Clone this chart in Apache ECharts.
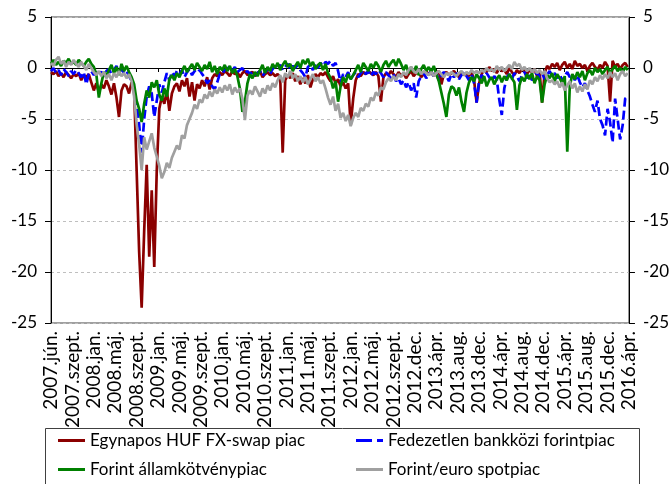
<!DOCTYPE html>
<html>
<head>
<meta charset="utf-8">
<script src="https://cdn.jsdelivr.net/npm/echarts@6/dist/echarts.min.js"></script>
<style>
html, body { margin: 0; padding: 0; background: #fff; }
#chart { width: 672px; height: 484px; }
</style>
</head>
<body>
<div id="chart"></div>
<script>
// heti adatok, két hetente mintavételezve (x = hét sorszáma)
var tickLabels = ['2007.jún.', '2007.szept.', '2008.jan.', '2008.máj.', '2008.szept.', '2009.jan.', '2009.máj.',
    '2009.szept.', '2010.jan.', '2010.máj.', '2010.szept.', '2011.jan.', '2011.máj.', '2011.szept.',
    '2012.jan.', '2012.máj.', '2012.szept.', '2012.dec.', '2013.ápr.', '2013.aug.', '2013.dec.',
    '2014.ápr.', '2014.aug.', '2014.dec.', '2015.ápr.', '2015.aug.', '2015.dec.', '2016.ápr.'];

var seriesNames = ['Egynapos HUF FX-swap piac', 'Fedezetlen bankközi forintpiac', 'Forint államkötvénypiac', 'Forint/euro spotpiac'];

var swap = [
    -0.4, -0.6, -0.3, -0.8, -0.5, -0.9, -0.4, -0.7, -1.0, -0.6,
    -0.8, -0.5, -1.2, -0.7, -0.9, -0.6, -1.4, -2.2, -1.5, -2.4,
    -1.6, -2.0, -1.2, -1.8, -2.6, -1.5, -2.9, -4.8, -2.2, -1.6,
    -1.8, -2.5, -1.4, -2.0, -10, -18, -23.5, -16, -9.5, -18.5,
    -12, -19.5, -10, -4, -2.8, -3.5, -2.2, -4.2, -2.5, -1.8,
    -1.5, -2.3, -1.2, -1.8, -1.0, -2.8, -1.4, -3.2, -1.6, -2.0,
    -1.2, -1.8, -0.9, -2.1, -1.0, -0.6, -0.8, -0.4, -0.7, -0.3,
    -0.5, -0.8, -0.3, -0.6, -0.4, -0.9, -0.5, -0.3, -0.7, -0.5,
    -0.4, -0.8, -0.5, -0.3, -0.9, -0.6, -0.4, -0.7, -0.5, -0.8,
    -0.6, -0.9, -8.3, -1.2, -0.7, -1.0, -0.5, -1.3, -0.8, -1.6,
    -1.0, -1.5, -0.7, -1.9, -1.1, -0.6, -0.9, -0.5, -0.7, -0.4,
    -0.9, -1.3, -0.8, -1.5, -1.1, -1.8, -1.4, -2.0, -1.5, -5.6,
    -3.0, -1.2, -0.6, -0.8, -0.4, -0.6, -0.3, -0.5, -0.7, -0.4,
    -0.8, -3.3, -0.9, -0.5, -0.7, -0.3, -0.6, -0.9, -0.4, -0.8,
    -0.5, -1.0, -0.6, -0.3, -0.8, -0.5, -0.4, -0.9, -0.6, -0.3,
    -0.7, -0.4, -0.8, -0.5, -0.3, -1.6, -0.6, -0.4, -0.7, -0.5,
    -0.3, -0.6, -0.9, -0.4, -0.7, -0.5, -0.8, -0.4, -1.2, -3.4,
    -1.5, -0.6, -0.2, -0.4, 0.1, -0.3, -0.1, -0.5, 0.0, -0.3,
    -0.2, -0.6, 0.0, -0.4, -0.7, -0.2, -0.5, -0.1, -0.3, -0.6,
    -0.2, -0.4, -0.1, -0.8, -0.3, -3.4, -0.5, 0.2, -0.1, 0.4,
    0.1, 0.5, -0.2, 0.3, 0.6, 0.0, 0.4, -0.1, 0.7, 0.2,
    0.4, 0.0, 0.3, -0.3, 0.2, 0.5, 0.1, -0.2, 0.3, 0.0,
    0.6, 0.2, -3.3, 0.7, 0.1, 0.4, -0.1, 0.3, 0.5, 0.1
];

var interbank = [
    -0.3, 0.0, -0.5, -0.2, -0.7, -0.1, -0.4, -0.8, -0.3, -0.6,
    -0.2, -0.5, -0.9, -0.4, -1.6, -0.6, -0.3, -0.7, -0.2, -0.5,
    -0.4, -0.8, -0.3, -0.1, -0.6, -0.2, 0.2, -0.4, -0.1, -0.5,
    -0.3, -0.8, -1.3, -2.2, -3.5, -5.5, -8.3, -5.0, -2.8, -1.8,
    -2.5, -4.8, -3.2, -1.6, -2.4, -1.4, -0.5, -1.2, -0.4, -0.8,
    -0.3, -0.6, -0.2, -0.9, -0.4, -0.1, -0.7, -0.3, -0.5, -0.2,
    -0.6, -0.9, -1.5, -1.2, -1.8, -2.1, -1.4, -0.6, -0.6, -0.2,
    -0.1, 0.2, -0.3, 0.1, -0.4, -0.2, 0.0, -0.5, -0.3, -0.6,
    -0.4, -0.7, -0.5, -0.3, -0.8, -0.4, -0.2, -0.6, -0.1, 0.2,
    0.0, 0.3, -0.2, 0.1, 0.4, -0.1, 0.2, 0.0, 0.3, -0.2,
    -0.5, -0.9, 0.1, 0.3, -0.2, 0.4, 0.0, 0.5, 0.2, 0.6,
    0.4, 0.7, 0.2, 0.5, -0.3, -1.4, -0.6, -0.9, -0.4, -1.1,
    -0.7, -0.4, -0.9, -0.5, -0.2, -0.6, -0.3, -0.8, -0.4, -0.6,
    -0.2, -0.5, -0.9, -0.4, -0.7, -1.0, -0.6, -1.3, -1.0, -1.6,
    -1.2, -1.9, -1.4, -2.2, -1.5, -2.9, -1.3, -0.8, -0.5, -1.0,
    -0.6, -0.3, -0.9, -0.5, -1.2, -0.7, -0.4, -0.8, -1.3, -0.6,
    -0.9, -0.5, -1.1, -0.7, -0.4, -0.8, -1.2, -0.6, -1.5, -3.4,
    -1.2, -0.7, -1.0, -0.5, -0.9, -1.3, -0.8, -1.1, -3.1, -4.6,
    -2.0, -0.9, -0.6, -1.1, -0.5, -0.8, -1.3, -0.7, -0.4, -1.0,
    -0.6, -1.2, -0.8, -0.4, -0.9, -0.5, -1.1, -0.7, -0.3, -0.8,
    -0.5, -1.0, -0.6, -1.3, -0.8, -0.4, -0.9, -0.6, -1.2, -0.7,
    -1.4, -1.9, -1.5, -2.2, -2.8, -3.6, -4.3, -3.2, -5.0, -5.6,
    -6.6, -4.0, -5.3, -7.3, -3.0, -5.0, -7.0, -5.6, -3.0, -2.8
];

var bonds = [
    0.4, 0.8, 0.3, 0.6, 0.2, 0.7, 0.5, 0.9, 0.4, 0.6,
    0.3, 0.8, 0.5, 0.2, 0.6, 0.9, 0.4, 0.1, -0.6, -2.9,
    -1.5, -0.4, -0.8, -0.2, 0.3, -0.5, 0.1, -0.7, 0.4, -0.3,
    0.2, -0.4, -0.9, -1.6, -3.2, -4.0, -5.3, -3.5, -2.2, -2.9,
    -1.4, -1.9, -1.2, -2.6, -3.2, -2.0, -2.8, -1.1, -0.7, -1.2,
    -0.5, -0.9, -0.3, 0.2, -0.4, 0.0, 0.4, -0.2, 0.5, 0.1,
    -0.3, 0.3, -0.1, 0.6, -0.4, 0.2, -0.6, 0.1, -0.2, 0.3,
    -0.3, 0.2, -0.5, -0.1, -0.8, -2.0, -4.3, -3.3, -1.5, -0.6,
    -1.0, -0.4, -0.8, -0.2, 0.3, -0.5, 0.1, -0.3, 0.4, 0.0,
    0.5, -0.2, 0.3, 0.7, 0.1, 0.4, -0.3, 0.2, 0.6, 0.0,
    0.8, 0.4, 0.9, 0.2, 0.6, -0.1, 0.3, 0.5, -0.2, 0.4,
    -0.5, -1.0, -2.0, -1.3, -3.3, -1.8, -0.9, -1.4, -0.6, -1.1,
    -0.7, -0.2, 0.3, -0.4, 0.5, 0.1, -0.3, 0.4, 0.0, 0.6,
    0.2, -0.4, 0.3, 0.7, 0.1, 0.5, 0.8, 0.2, 0.9, 0.4,
    -0.2, 0.3, -0.5, 0.1, -0.4, 0.2, -0.7, -0.1, 0.3, -0.3,
    0.1, -0.4, 0.2, -0.6, -1.3, -2.4, -3.5, -4.8, -2.6, -1.8,
    -2.0, -2.7, -1.9, -3.3, -4.3, -2.4, -1.4, -0.9, -1.3, -0.6,
    -1.0, -1.5, -0.8, -1.8, -1.2, -0.9, -1.6, -1.1, -0.7, -1.4,
    -0.8, -1.2, -0.6, -1.0, -1.4, -4.1, -1.7, -0.9, -1.3, -0.6,
    -1.1, -0.5, -1.5, -0.8, -1.2, -3.4, -1.6, -0.7, -1.0, -0.5,
    -1.3, -0.6, -1.0, -1.5, -0.8, -8.2, -1.8, -0.6, -1.1, -0.4,
    -0.9, -0.3, -1.2, -0.5, -0.2, -0.7, 0.0, -0.4, -0.1, -0.6,
    -0.2, 0.1, -0.5, -0.1, 0.2, -0.3, 0.0, -0.4, 0.1, -0.2
];

var spot = [
    0.5, 0.2, 0.8, 1.1, 0.4, 0.7, 0.1, 0.6, 0.3, 0.8,
    0.4, 0.1, 0.6, 0.2, -0.2, 0.4, 0.0, -0.4, -0.7, -0.3,
    -0.8, -0.4, -1.0, -0.6, -1.2, -0.5, -0.9, -0.3, -0.8, -0.5,
    -1.0, -0.6, -1.3, -2.8, -5.5, -7.5, -10.0, -6.8, -8.0, -7.2,
    -6.4, -7.8, -8.7, -9.6, -10.8, -10.2, -9.3, -9.8, -8.8, -8.2,
    -7.6, -8.0, -6.6, -6.9, -5.6, -5.0, -4.4, -3.6, -4.0, -3.1,
    -3.4, -2.6, -3.0, -2.3, -2.8, -2.1, -2.5, -1.9, -2.4, -1.7,
    -2.2, -1.6, -2.6, -1.9, -2.4, -2.0, -3.0, -5.1, -2.7, -2.2,
    -2.6, -1.8, -2.3, -2.8, -2.0, -2.5, -1.7, -2.2, -1.5, -1.9,
    -1.2, -0.7, -1.4, -0.5, -0.9, -0.3, -1.0, -0.6, -1.3, -0.8,
    -1.4, -0.9, -1.6, -1.1, -0.6, -1.3, -0.9, -1.5, -1.2, -2.0,
    -2.9, -3.6, -2.8, -4.2, -3.5, -4.9, -4.4, -5.2, -4.6, -5.7,
    -4.9, -4.4, -4.8, -3.9, -4.2, -3.5, -3.8, -2.9, -3.2, -2.4,
    -2.7, -1.9, -2.1, -1.4, -1.0, -1.3, -0.8, -1.2, -0.6, -0.9,
    -0.4, -0.7, -0.2, 0.1, -0.3, -0.5, -0.1, -0.6, -0.3, -0.5,
    -0.7, -0.4, -0.8, -0.5, -0.3, -0.6, -0.9, -0.5, -0.7, -0.4,
    -0.6, -0.8, -0.5, -0.3, -0.7, -0.4, -0.6, -0.2, -0.5, -0.3,
    -0.5, -0.2, -0.4, 0.0, -0.3, -0.1, -0.4, 0.2, -0.2, 0.1,
    -0.3, 0.0, 0.3, -0.1, 0.6, 0.2, 0.4, -0.2, 0.1, -0.3,
    0.0, -0.4, -0.1, -0.5, -0.2, -0.6, -0.3, -1.0, -1.4, -1.2,
    -1.6, -1.3, -1.9, -1.4, -2.2, -1.7, -1.3, -2.0, -1.5, -2.4,
    -1.8, -2.3, -1.6, -2.1, -1.2, -1.6, -0.9, -1.3, -0.7, -1.1,
    -0.6, -1.0, -0.4, -0.9, -0.5, -1.2, -0.6, -0.3, -0.8, -0.5
];

var weeksPerLabel = 17;
var weeksPerPoint = 2;
var lastWeek = (tickLabels.length - 1) * weeksPerLabel;

function toPoints(values) {
    return values.map(function (v, i) { return [i * weeksPerPoint, v]; });
}

var font = 'Lato, "Open Sans", sans-serif';
var solidIcon = 'rect';
var dashIcon = 'path://M0,0H16V3H0Z M21,0H27V3H21Z';

var lineSeries = function (name, values, color, dash) {
    return {
        name: name,
        type: 'line',
        xAxisIndex: 0,
        yAxisIndex: 0,
        data: toPoints(values),
        symbol: 'none',
        lineStyle: { color: color, width: 2.7, type: dash || 'solid' },
        itemStyle: { color: color }
    };
};

var legendText = { fontFamily: font, fontSize: 17, color: '#000', lineHeight: 19 };

var option = {
    animation: false,
    backgroundColor: '#fff',
    grid: {
        left: 51, right: 43, top: 17, bottom: 161,
        show: true, borderColor: '#404040', borderWidth: 1,
        backgroundColor: 'transparent'
    },
    graphic: [{
        type: 'rect',
        shape: { x: 45.5, y: 428.5, width: 594, height: 80 },
        style: { fill: 'none', stroke: '#404040', lineWidth: 1 },
        silent: true
    }],
    legend: [{
        left: 58, top: 431, orient: 'vertical', padding: 0,
        itemWidth: 27, itemHeight: 3, itemGap: 10,
        data: [
            { name: seriesNames[0], icon: solidIcon },
            { name: seriesNames[2], icon: solidIcon }
        ],
        textStyle: legendText
    }, {
        left: 356, top: 431, orient: 'vertical', padding: 0,
        itemWidth: 27, itemHeight: 3, itemGap: 10,
        data: [
            { name: seriesNames[1], icon: dashIcon },
            { name: seriesNames[3], icon: solidIcon }
        ],
        textStyle: legendText
    }],
    xAxis: [{
        type: 'value', min: 0, max: lastWeek, interval: weeksPerLabel,
        position: 'bottom',
        axisLine: { show: false, onZero: false },
        axisTick: { show: false },
        splitLine: { show: false },
        axisLabel: {
            rotate: 90, margin: 8,
            fontFamily: font, fontSize: 19, color: '#000',
            formatter: function (v) { return tickLabels[Math.round(v / weeksPerLabel)]; }
        }
    }, {
        type: 'value', min: 0, max: lastWeek, interval: weeksPerLabel,
        position: 'bottom',
        axisLine: { show: true, onZero: true, lineStyle: { color: '#000', width: 1 } },
        axisTick: { show: true, length: 4, lineStyle: { color: '#000' } },
        splitLine: { show: false },
        axisLabel: { show: false }
    }],
    yAxis: [{
        type: 'value', min: -25, max: 5, interval: 5, position: 'left',
        axisLine: { show: true, onZero: false, lineStyle: { color: '#000' } },
        axisTick: { show: true, length: 6, lineStyle: { color: '#000' } },
        axisLabel: { margin: 14, fontFamily: font, fontSize: 17, color: '#000' },
        splitLine: { show: true, lineStyle: { color: '#bfbfbf', type: [3, 3] } }
    }, {
        type: 'value', min: -25, max: 5, interval: 5, position: 'right',
        axisLine: { show: true, onZero: false, lineStyle: { color: '#000' } },
        axisTick: { show: true, length: 6, lineStyle: { color: '#000' } },
        axisLabel: { margin: 14, fontFamily: font, fontSize: 17, color: '#000' },
        splitLine: { show: false }
    }],
    series: [
        lineSeries(seriesNames[0], swap, '#8b0000'),
        lineSeries(seriesNames[1], interbank, '#0000ff', [9, 4]),
        lineSeries(seriesNames[2], bonds, '#008000'),
        lineSeries(seriesNames[3], spot, '#a0a0a0')
    ]
};

var myChart = echarts.init(document.getElementById('chart'));
myChart.setOption(option);
</script>
</body>
</html>
